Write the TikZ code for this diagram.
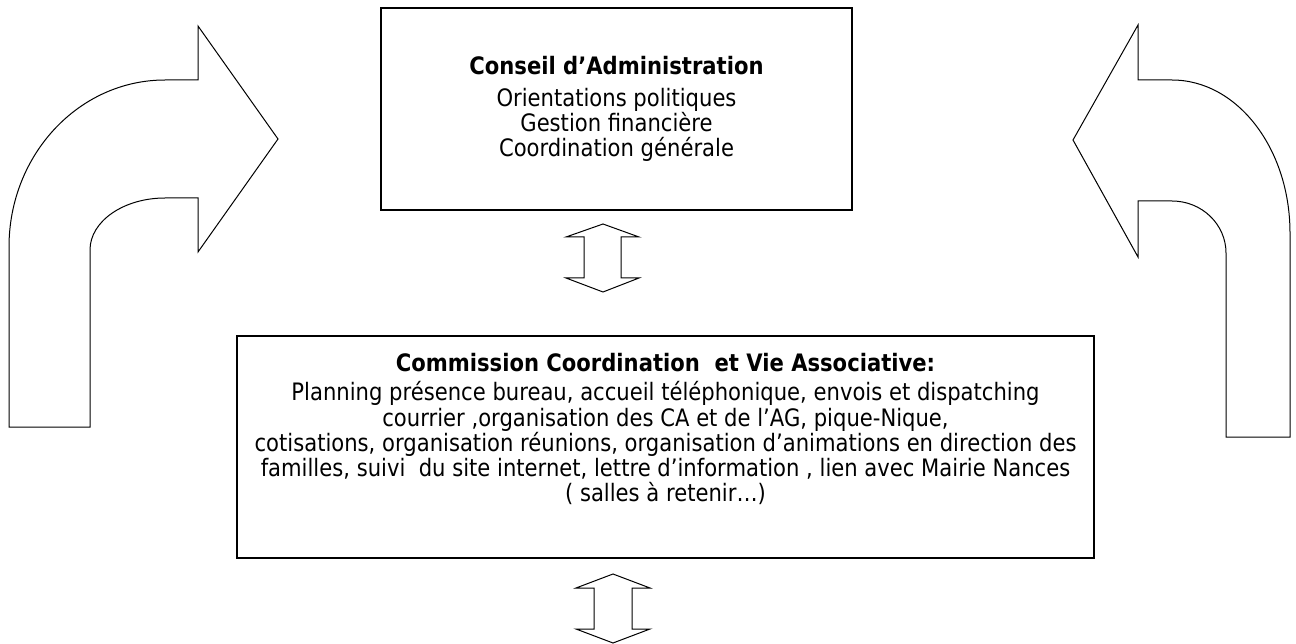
\documentclass[tikz,border=0pt]{standalone}
\usepackage{fontspec}
\setmainfont[FakeStretch=0.88]{DejaVu Sans}
\newcommand\boxfont{%
  \fontsize{24}{25.2}\selectfont%
}

\begin{document}
\begin{tikzpicture}[x=1pt,y=-1pt]
  \useasboundingbox (0,0) rectangle (1296,644);

  \tikzstyle{box}=[draw,line width=1.3pt,inner sep=0pt,align=center,font=\boxfont]
  \tikzstyle{bigarrow}=[draw,line width=1pt,line join=miter]

  % boxes
  \node[box,minimum width=471pt,minimum height=202pt] (ca) at (616.5,109)
    {\textbf{Conseil d’Administration}\\[6pt]
     Orientations politiques\\
     Gestion financière\\
     Coordination générale};

  \node[box,minimum width=857pt,minimum height=222pt] (cva) at (665.5,447) {};
  \node[align=center,anchor=north,font=\boxfont,inner sep=0pt] (cvatext) at ([yshift=-18pt]cva.north)
    {\textbf{Commission Coordination~ et Vie Associative:}\\[4pt]
     Planning présence bureau, accueil téléphonique, envois et dispatching\\
     courrier ,organisation des CA et de l’AG, pique-Nique,\\
     cotisations, organisation réunions, organisation d’animations en direction des\\
     familles, suivi~ du site internet, lettre d’information , lien avec Mairie Nances\\
     ( salles à retenir…)};

  % double arrows
  \draw[bigarrow] (603,224) -- (639,237) -- (621,237) -- (621,278) -- (639,278) -- (603,292)
    -- (566,278) -- (584,278) -- (584,237) -- (566,237) -- cycle;
  \draw[bigarrow] (613,574) -- (650,588) -- (632,588) -- (632,629) -- (650,629) -- (613,643)
    -- (576,629) -- (594,629) -- (594,588) -- (576,588) -- cycle;

  % curved arrows
  \draw[bigarrow] (9,427) -- (9,247) .. controls (9,154.8) and (78.8,80) .. (165,80)
    -- (198,80) -- (198,26) -- (278,139) -- (198,252) -- (198,198) -- (165,198)
    .. controls (123.6,198) and (90,221.3) .. (90,250) -- (90,427) -- cycle;
  \draw[bigarrow] (1290,437) -- (1290,233) .. controls (1290,148.5) and (1237.2,80) .. (1172,80)
    -- (1138,80) -- (1138,25) -- (1073,140) -- (1138,257) -- (1138,201) -- (1172,201)
    .. controls (1201.8,201) and (1226,224.3) .. (1226,253) -- (1226,437) -- cycle;
\end{tikzpicture}
\end{document}
